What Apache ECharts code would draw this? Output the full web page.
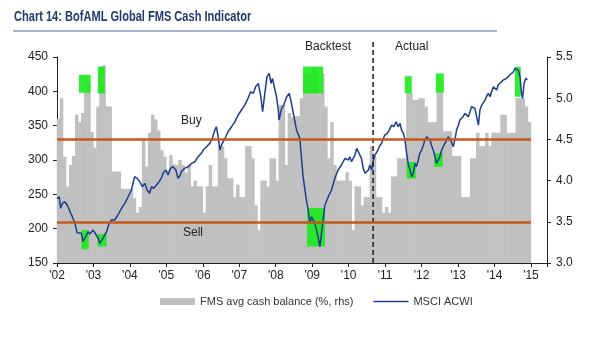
<!DOCTYPE html>
<html>
<head>
<meta charset="utf-8">
<script src="https://cdn.jsdelivr.net/npm/echarts@6/dist/echarts.min.js"></script>
<style>
html, body { margin: 0; padding: 0; background: #fff; }
#chart { width: 615px; height: 351px; }
</style>
</head>
<body>
<div id="chart"></div>
<script>
// FMS average cash balance (% , right axis), one value per month Jan..Dec
var cashYears = [2002, 2003, 2004, 2005, 2006, 2007, 2008, 2009, 2010, 2011, 2012, 2013, 2014];
var cash2002 = [4.75, 5.0, 4.29, 3.93, 4.19, 4.3, 4.8, 4.71, 4.82, 5.08, 5.2, 4.59];
var cash2003 = [4.4, 4.9, 5.38, 5.4, 4.9, 4.9, 4.11, 4.11, 4.11, 3.9, 3.9, 3.9];
var cash2004 = [3.9, 3.79, 3.61, 3.68, 4.49, 4.17, 4.58, 4.8, 4.74, 4.61, 4.37, 4.29];
var cash2005 = [4.13, 4.31, 4.2, 4.19, 4.25, 4.19, 4.1, 4.19, 3.93, 4.0, 3.93, 3.93];
var cash2006 = [3.61, 3.93, 4.19, 3.93, 3.93, 4.42, 4.42, 4.27, 4.03, 4.03, 3.8, 3.95];
var cash2007 = [3.8, 3.8, 4.42, 4.42, 4.27, 3.7, 3.4, 4.0, 4.0, 3.93, 4.27, 4.27];
var cash2008 = [4.0, 4.92, 4.92, 4.19, 4.82, 4.77, 4.78, 4.78, 5.0, 5.3, 5.3, 5.3];
var cash2009 = [5.38, 5.3, 5.06, 5.3, 4.9, 4.27, 4.71, 4.19, 4.0, 4.0, 4.0, 4.1];
var cash2010 = [4.0, 3.4, 3.93, 3.93, 3.7, 3.8, 3.8, 4.42, 4.3, 3.8, 3.8, 3.61];
var cash2011 = [3.68, 3.61, 4.05, 4.05, 4.27, 4.27, 4.27, 5.06, 5.06, 4.98, 4.98, 5.0];
var cash2012 = [5.0, 4.9, 4.71, 4.71, 4.71, 5.07, 5.07, 4.6, 4.6, 4.6, 4.3, 4.3];
var cash2013 = [4.3, 3.8, 3.8, 3.8, 4.27, 4.27, 4.58, 4.42, 4.42, 4.58, 4.42, 4.58];
var cash2014 = [4.58, 4.58, 4.8, 4.8, 4.58, 4.58, 4.58, 5.0, 5.0, 5.0, 4.9, 4.71];
var cashByYear = [cash2002, cash2003, cash2004, cash2005, cash2006, cash2007, cash2008,
                  cash2009, cash2010, cash2011, cash2012, cash2013, cash2014];

// MSCI ACWI (left axis), [decimal year, index level]
var msci = [
  [2002.00, 244], [2002.06, 246.5], [2002.10, 229.6], [2002.15, 236.9], [2002.21, 239.3], [2002.28, 234.4],
  [2002.33, 232], [2002.37, 223.3], [2002.42, 217.5], [2002.49, 207.7], [2002.55, 194.2], [2002.60, 195.6],
  [2002.67, 193.2], [2002.71, 181.1], [2002.76, 183.5], [2002.81, 190.8], [2002.85, 195.6], [2002.90, 192.2],
  [2002.94, 190.8], [2002.99, 198], [2003.06, 192.2], [2003.13, 185.9], [2003.17, 178.6], [2003.22, 176.2],
  [2003.26, 185.9], [2003.31, 190.8], [2003.36, 195.6], [2003.43, 207.7], [2003.49, 212.6], [2003.58, 212.6],
  [2003.67, 219.9], [2003.77, 229.6], [2003.86, 236.9], [2003.95, 246.5], [2004.04, 256.3], [2004.13, 275.7],
  [2004.20, 273.3], [2004.27, 268.4], [2004.34, 261.1], [2004.41, 266], [2004.47, 256.3], [2004.54, 251.5],
  [2004.59, 261.1], [2004.65, 258.7], [2004.73, 263.6], [2004.80, 268.4], [2004.86, 273.3], [2004.91, 280.6],
  [2004.98, 285.4], [2005.05, 278.1], [2005.11, 287.8], [2005.18, 290.3], [2005.26, 285.4], [2005.32, 273.3],
  [2005.37, 276.7], [2005.41, 283], [2005.50, 287.8], [2005.60, 290.3], [2005.69, 295.1], [2005.78, 297.5],
  [2005.87, 304.8], [2005.96, 309.7], [2006.01, 314.5], [2006.10, 319.4], [2006.19, 324.2], [2006.26, 331.5],
  [2006.33, 343.6], [2006.37, 348.5], [2006.42, 333.9], [2006.47, 314.5], [2006.51, 321.8], [2006.56, 326.7],
  [2006.63, 333.9], [2006.69, 341.2], [2006.79, 348.5], [2006.88, 355.8], [2006.97, 365.5], [2007.06, 372.8],
  [2007.15, 380], [2007.24, 389.8], [2007.31, 399.5], [2007.38, 397], [2007.45, 406.8], [2007.52, 411.6],
  [2007.56, 414], [2007.59, 392.2], [2007.64, 370.4], [2007.70, 397], [2007.76, 421.3], [2007.82, 426.1],
  [2007.87, 411.6], [2007.91, 418.9], [2007.98, 401.9], [2008.02, 392.2], [2008.07, 372.8], [2008.09, 358.2],
  [2008.16, 375.2], [2008.22, 380], [2008.30, 392.2], [2008.37, 397], [2008.43, 382.5], [2008.50, 363.1],
  [2008.57, 343.6], [2008.66, 331.5], [2008.75, 275.7], [2008.84, 241.7], [2008.89, 227.2], [2008.94, 207.7],
  [2008.98, 217.5], [2009.03, 215.1], [2009.07, 207.7], [2009.12, 198], [2009.16, 188.3], [2009.21, 173.8],
  [2009.26, 195.6], [2009.35, 234.4], [2009.44, 246.5], [2009.53, 256.3], [2009.62, 273.3], [2009.71, 285.4],
  [2009.80, 292.7], [2009.90, 302.4], [2009.99, 300], [2010.03, 304.8], [2010.08, 297.5], [2010.17, 307.2],
  [2010.22, 317], [2010.26, 314.5], [2010.35, 302.4], [2010.40, 287.8], [2010.45, 280.6], [2010.49, 278.1],
  [2010.54, 285.4], [2010.58, 292.7], [2010.63, 285.4], [2010.67, 297.5], [2010.72, 307.2], [2010.78, 312.1],
  [2010.84, 319.4], [2010.90, 324.2], [2010.99, 336.4], [2011.06, 338.8], [2011.11, 343.6], [2011.18, 350.9],
  [2011.24, 348.5], [2011.30, 355.8], [2011.36, 348.5], [2011.41, 353.3], [2011.45, 343.6], [2011.50, 338.8],
  [2011.54, 331.5], [2011.59, 309.7], [2011.63, 295.1], [2011.68, 285.4], [2011.73, 275.7], [2011.77, 280.6],
  [2011.82, 295.1], [2011.86, 290.3], [2011.91, 300], [2011.95, 309.7], [2012.00, 314.5], [2012.05, 321.8],
  [2012.09, 329.1], [2012.14, 333.9], [2012.18, 331.5], [2012.23, 329.1], [2012.27, 321.8], [2012.32, 314.5],
  [2012.37, 304.8], [2012.41, 295.1], [2012.46, 297.5], [2012.50, 304.8], [2012.55, 314.5], [2012.59, 319.4],
  [2012.64, 324.2], [2012.69, 329.1], [2012.73, 333.9], [2012.78, 331.5], [2012.82, 326.7], [2012.87, 319.4],
  [2012.92, 331.5], [2012.96, 343.6], [2013.01, 350.9], [2013.05, 358.2], [2013.14, 363.1], [2013.19, 367.9],
  [2013.24, 365.5], [2013.28, 363.1], [2013.33, 370.4], [2013.37, 377.6], [2013.46, 375.2], [2013.51, 363.1],
  [2013.56, 350.9], [2013.60, 372.8], [2013.65, 380], [2013.69, 382.5], [2013.74, 387.3], [2013.78, 392.2],
  [2013.83, 397], [2013.88, 392.2], [2013.92, 399.5], [2013.97, 406.8], [2014.06, 401.9], [2014.10, 409.2],
  [2014.15, 411.6], [2014.24, 416.5], [2014.33, 418.9], [2014.42, 423.7], [2014.52, 428.6], [2014.56, 433.4],
  [2014.61, 435.9], [2014.65, 431], [2014.70, 421.3], [2014.74, 397], [2014.77, 389.8], [2014.81, 411.6],
  [2014.86, 418.9], [2014.90, 416.5]
];

// signal boxes: [fromYear, toYear, low, high] on the left axis
var signalBoxes = [
  [2002.60, 2002.92, 398, 424], [2003.12, 2003.31, 397, 436], [2008.75, 2009.30, 397, 436],
  [2011.54, 2011.73, 397, 422], [2012.39, 2012.61, 398, 426], [2014.56, 2014.72, 392, 436],
  [2002.67, 2002.87, 170, 198], [2003.11, 2003.36, 174, 192], [2008.86, 2009.35, 174, 230],
  [2011.59, 2011.84, 273, 297], [2012.34, 2012.58, 290, 310]
];

var buyLevel = 4.5;
var sellLevel = 3.5;
var dividerYear = 2010.67;

var cashData = [];
cashByYear.forEach(function (months, k) {
  months.forEach(function (v, m) {
    cashData.push([cashYears[k] + (m + 0.5) / 12, v]);
  });
});

var chart = echarts.init(document.getElementById('chart'));
var axisFont = 'Liberation Sans, Arial, sans-serif';

chart.setOption({
  animation: false,
  grid: { left: 57, right: 68, top: 57, bottom: 88 },
  graphic: [
    { type: 'text', left: 14, top: 10, z: 100, scaleX: 0.79,
      style: { text: 'Chart 14: BofAML Global FMS Cash Indicator', fill: '#1f3a6e',
               font: 'bold 14px "Liberation Sans", Arial' } },
    { type: 'line', z: 100, shape: { x1: 13, y1: 31, x2: 497, y2: 31 },
      style: { stroke: '#8a9bb8', lineWidth: 1.5 } },
    { type: 'text', left: 181, top: 115, z: 100,
      style: { text: 'Buy', fill: '#222', font: '12px ' + axisFont } },
    { type: 'text', left: 183, top: 227, z: 100,
      style: { text: 'Sell', fill: '#222', font: '12px ' + axisFont } }
  ],
  legend: {
    left: 155, top: 291, itemWidth: 35, itemHeight: 7, itemGap: 20,
    textStyle: { fontSize: 11, color: '#333', fontFamily: axisFont },
    data: [
      { name: 'FMS avg cash balance (%, rhs)', icon: 'rect' },
      { name: 'MSCI ACWI', icon: 'path://M0,0 L35,0 L35,1.5 L0,1.5 Z' }
    ]
  },
  xAxis: {
    type: 'value', min: 2002, max: 2015.44, interval: 1,
    axisLine: { lineStyle: { color: '#222' } },
    axisTick: { length: 4, lineStyle: { color: '#222' } },
    splitLine: { show: false },
    axisLabel: {
      fontSize: 12, color: '#222', fontFamily: axisFont, margin: 7,
      formatter: function (v) {
        return Math.abs(v - Math.round(v)) < 1e-6 ? "'" + String(Math.round(v)).slice(2) : '';
      }
    }
  },
  yAxis: [{
    type: 'value', min: 150, max: 450, interval: 50, position: 'left',
    axisLine: { show: true, lineStyle: { color: '#222' } },
    axisTick: { show: true, length: 4, lineStyle: { color: '#222' } },
    splitLine: { show: false },
    axisLabel: { fontSize: 12, color: '#222', fontFamily: axisFont, margin: 9 }
  }, {
    type: 'value', min: 3, max: 5.5, interval: 0.5, position: 'right',
    axisLine: { show: true, lineStyle: { color: '#222' } },
    axisTick: { show: true, length: 4, lineStyle: { color: '#222' } },
    splitLine: { show: false },
    axisLabel: { fontSize: 12, color: '#222', fontFamily: axisFont, margin: 9,
                 formatter: function (v) { return v.toFixed(1); } }
  }],
  series: [{
    name: 'FMS avg cash balance (%, rhs)',
    type: 'bar', xAxisIndex: 0, yAxisIndex: 1, z: 1,
    barWidth: 3.5, clip: true,
    itemStyle: { color: '#c0c0c0' },
    data: cashData,
    markLine: {
      silent: true, symbol: 'none', z: 5,
      label: { show: false },
      lineStyle: { color: '#c55a1a', width: 2.5, type: 'solid' },
      data: [
        [{ coord: [2002, buyLevel] }, { coord: [2015, buyLevel] }],
        [{ coord: [2002, sellLevel] }, { coord: [2015, sellLevel] }]
      ]
    }
  }, {
    name: 'signals',
    type: 'custom', xAxisIndex: 0, yAxisIndex: 0, z: 2,
    encode: { x: [0, 1], y: [2, 3] },
    data: signalBoxes,
    renderItem: function (params, api) {
      var p0 = api.coord([api.value(0), api.value(3)]);
      var p1 = api.coord([api.value(1), api.value(2)]);
      return { type: 'rect',
        shape: { x: p0[0], y: p0[1], width: p1[0] - p0[0], height: p1[1] - p0[1] },
        style: { fill: 'rgba(20,235,20,0.88)' } };
    }
  }, {
    name: 'MSCI ACWI',
    type: 'line', xAxisIndex: 0, yAxisIndex: 0, z: 3,
    symbol: 'none',
    lineStyle: { color: '#1c3c8f', width: 1.5 },
    itemStyle: { color: '#1c3c8f' },
    data: msci
  }, {
    name: 'divider',
    type: 'custom', xAxisIndex: 0, yAxisIndex: 0, z: 4,
    encode: { x: 0 },
    data: [[dividerYear]],
    renderItem: function (params, api) {
      var cs = params.coordSys;
      var x = api.coord([api.value(0), 300])[0];
      return { type: 'group', children: [
        { type: 'line', shape: { x1: x, y1: cs.y + cs.height, x2: x, y2: cs.y - 15 },
          style: { stroke: '#222', lineWidth: 1.5, lineDash: [5, 3] } },
        { type: 'text', style: { text: 'Backtest', x: x - 22, y: cs.y - 10, align: 'right',
          verticalAlign: 'middle', fill: '#222', font: '12px ' + axisFont } },
        { type: 'text', style: { text: 'Actual', x: x + 22, y: cs.y - 10, align: 'left',
          verticalAlign: 'middle', fill: '#222', font: '12px ' + axisFont } }
      ] };
    }
  }]
});
</script>
</body>
</html>
